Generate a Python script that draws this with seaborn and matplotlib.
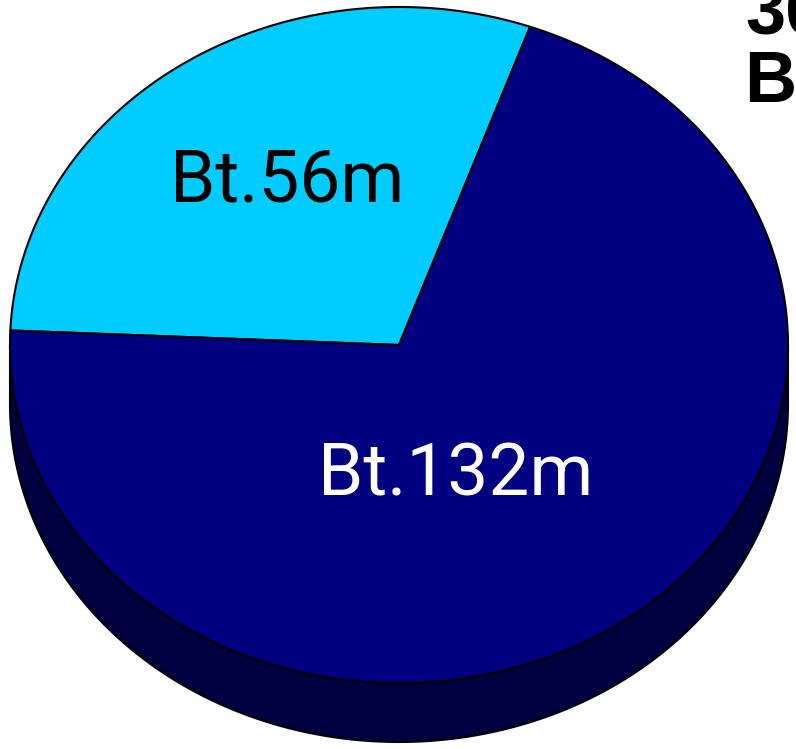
import numpy as np
import matplotlib
matplotlib.use("Agg")
import matplotlib.pyplot as plt
from matplotlib.patches import Polygon
import seaborn as sns

# ---- data ----
labels = ["Bt.56m", "Bt.132m"]
values = [56, 132]
colors = ["#00CCFF", "#000080"]
label_colors = ["black", "white"]
title_lines = ["30", "Bt"]

sns.set_theme(style="white")
plt.rcParams["font.family"] = ["Roboto", "DejaVu Sans"]

W, H = 796, 749
fig = plt.figure(figsize=(W / 100, H / 100), dpi=100)
ax = fig.add_axes([0, 0, 1, 1])
ax.set_xlim(0, W)
ax.set_ylim(H, 0)
ax.axis("off")

# layout of the 3D pie (pixels)
cx, cy, rx, ry, depth = 399, 345, 389, 338, 59
start = 70.3  # degrees, counter-clockwise

total = float(sum(values))
spans = [v / total * 360.0 for v in values]
bounds = [start]
for s in spans:
    bounds.append(bounds[-1] + s)


def pt(theta_deg, dy=0.0, frac=1.0):
    t = np.deg2rad(theta_deg)
    return cx + frac * rx * np.cos(t), cy - frac * ry * np.sin(t) + dy


def side_color(c):
    r, g, b = matplotlib.colors.to_rgb(c)
    return (r * 0.5, g * 0.5, b * 0.5)


# side walls (front-facing part: angles 180..360 mod 360)
for i, (a0, a1) in enumerate(zip(bounds[:-1], bounds[1:])):
    for k in range(-1, 2):
        lo = max(a0, 180 + 360 * k)
        hi = min(a1, 360 + 360 * k)
        if hi <= lo:
            continue
        th = np.linspace(lo, hi, 200)
        top = [pt(t) for t in th]
        bot = [pt(t, depth) for t in th[::-1]]
        poly = Polygon(top + bot, closed=True, facecolor=side_color(colors[i]),
                       edgecolor="black", linewidth=1.5, joinstyle="round")
        ax.add_patch(poly)

# top faces
for i, (a0, a1) in enumerate(zip(bounds[:-1], bounds[1:])):
    th = np.linspace(a0, a1, 400)
    pts = [(cx, cy)] + [pt(t) for t in th]
    poly = Polygon(pts, closed=True, facecolor=colors[i], edgecolor="black",
                   linewidth=1.5, joinstyle="round")
    ax.add_patch(poly)

# labels
label_frac = [0.513, 0.467]
label_shift = [0.0, -15.9]
for i, (a0, a1) in enumerate(zip(bounds[:-1], bounds[1:])):
    mid = (a0 + a1) / 2 + label_shift[i]
    x, y = pt(mid, frac=label_frac[i])
    ax.text(x, y, labels[i], ha="center", va="baseline", fontsize=52.5,
            color=label_colors[i], family=["Roboto", "DejaVu Sans"])

# title (cut off at the right edge, as in the reference)
ax.text(745, 33, title_lines[0], ha="left", va="baseline", fontsize=52,
        fontweight="bold", color="black", family=["Liberation Sans", "DejaVu Sans"])
ax.text(744, 102, title_lines[1], ha="left", va="baseline", fontsize=52,
        fontweight="bold", color="black", family=["Liberation Sans", "DejaVu Sans"])

fig.savefig("out.png", dpi=100)
